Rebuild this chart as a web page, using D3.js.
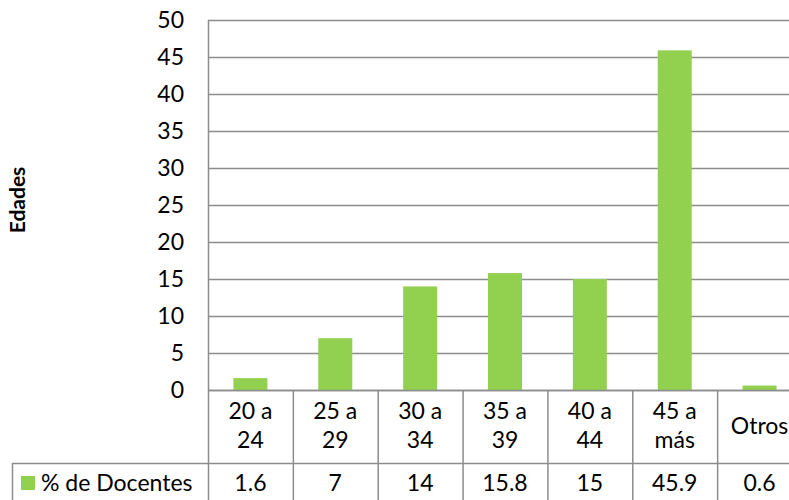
<!DOCTYPE html>
<html>
<head>
<meta charset="utf-8">
<script src="https://cdn.jsdelivr.net/npm/d3@7"></script>
<style>
  body { margin: 0; background: #fff; }
  svg { display: block; font-family: Lato, "Open Sans", sans-serif; }
</style>
</head>
<body>
<svg id="vis" width="789" height="500"></svg>
<script>
const categories = [["20 a", "24"], ["25 a", "29"], ["30 a", "34"], ["35 a", "39"], ["40 a", "44"], ["45 a", "más"], ["Otros"]];
const values = [1.6, 7, 14, 15.8, 15, 45.9, 0.6];
const valueLabels = ["1.6", "7", "14", "15.8", "15", "45.9", "0.6"];
const seriesName = "% de Docentes";
const yTicks = [0, 5, 10, 15, 20, 25, 30, 35, 40, 45, 50];

const green = "#92d050";
const grid = "#8c8c8c";
const fs = 23;
const plotLeft = 208, plotRight = 802, plotTop = 20, plotBottom = 390;
const rowMid = 463, tableLeft = 12;

const svg = d3.select("#vis");

const x = d3.scaleBand()
    .domain(d3.range(categories.length))
    .range([plotLeft, plotRight])
    .paddingInner(0)
    .paddingOuter(0);

const y = d3.scaleLinear()
    .domain([0, 50])
    .range([plotBottom, plotTop]);

// gridlines
svg.append("g")
  .selectAll("line")
  .data(yTicks)
  .enter()
  .append("line")
    .attr("x1", plotLeft)
    .attr("x2", plotRight)
    .attr("y1", d => y(d) + 0.5)
    .attr("y2", d => y(d) + 0.5)
    .attr("stroke", grid)
    .attr("stroke-width", 1.5);

// y axis line
svg.append("line")
    .attr("x1", plotLeft + 0.5).attr("x2", plotLeft + 0.5)
    .attr("y1", plotTop).attr("y2", plotBottom)
    .attr("stroke", grid).attr("stroke-width", 1.5);

// tick labels
svg.append("g")
  .selectAll("text")
  .data(yTicks)
  .enter()
  .append("text")
    .attr("x", 184)
    .attr("y", d => y(d))
    .attr("dy", "0.35em")
    .attr("text-anchor", "end")
    .attr("font-size", fs)
    .text(d => d);

// axis title
svg.append("text")
    .attr("transform", "translate(25, 200) rotate(-90)")
    .attr("text-anchor", "middle")
    .attr("font-size", 21)
    .attr("font-weight", "bold")
    .text("Edades");

// bars
const barW = 34;
svg.append("g")
  .selectAll("rect")
  .data(values)
  .enter()
  .append("rect")
    .attr("x", (d, i) => x(i) + x.bandwidth() / 2 - barW / 2)
    .attr("y", d => y(d))
    .attr("width", barW)
    .attr("height", d => plotBottom - y(d))
    .attr("fill", green);

// data table
const table = svg.append("g");
table.append("line")
    .attr("x1", plotLeft).attr("x2", 789)
    .attr("y1", plotBottom + 0.5).attr("y2", plotBottom + 0.5)
    .attr("stroke", grid).attr("stroke-width", 1.5);
table.append("line")
    .attr("x1", tableLeft).attr("x2", 789)
    .attr("y1", rowMid + 0.5).attr("y2", rowMid + 0.5)
    .attr("stroke", grid).attr("stroke-width", 1.5);
table.append("line")
    .attr("x1", tableLeft + 0.5).attr("x2", tableLeft + 0.5)
    .attr("y1", rowMid).attr("y2", 500)
    .attr("stroke", grid).attr("stroke-width", 1.5);

table.selectAll("line.col")
  .data(d3.range(categories.length + 1))
  .enter()
  .append("line")
    .attr("class", "col")
    .attr("x1", i => (i < categories.length ? x(i) : plotRight) + 0.5)
    .attr("x2", i => (i < categories.length ? x(i) : plotRight) + 0.5)
    .attr("y1", plotBottom)
    .attr("y2", 500)
    .attr("stroke", grid).attr("stroke-width", 1.5);

// category labels
categories.forEach((lines, i) => {
  const cx = x(i) + x.bandwidth() / 2;
  const t = table.append("text")
      .attr("text-anchor", "middle")
      .attr("font-size", fs);
  if (lines.length === 1) {
    t.append("tspan").attr("x", cx).attr("y", 434).text(lines[0]);
  } else {
    lines.forEach((l, j) => {
      t.append("tspan").attr("x", cx).attr("y", 419 + j * 29).text(l);
    });
  }
});

// value row
table.selectAll("text.val")
  .data(valueLabels)
  .enter()
  .append("text")
    .attr("class", "val")
    .attr("x", (d, i) => x(i) + x.bandwidth() / 2)
    .attr("y", 491)
    .attr("text-anchor", "middle")
    .attr("font-size", fs)
    .text(d => d);

// legend key
table.append("rect")
    .attr("x", 21).attr("y", 476)
    .attr("width", 14).attr("height", 14)
    .attr("fill", green);
table.append("text")
    .attr("x", 41)
    .attr("y", 491)
    .attr("font-size", fs)
    .text(seriesName);
</script>
</body>
</html>
